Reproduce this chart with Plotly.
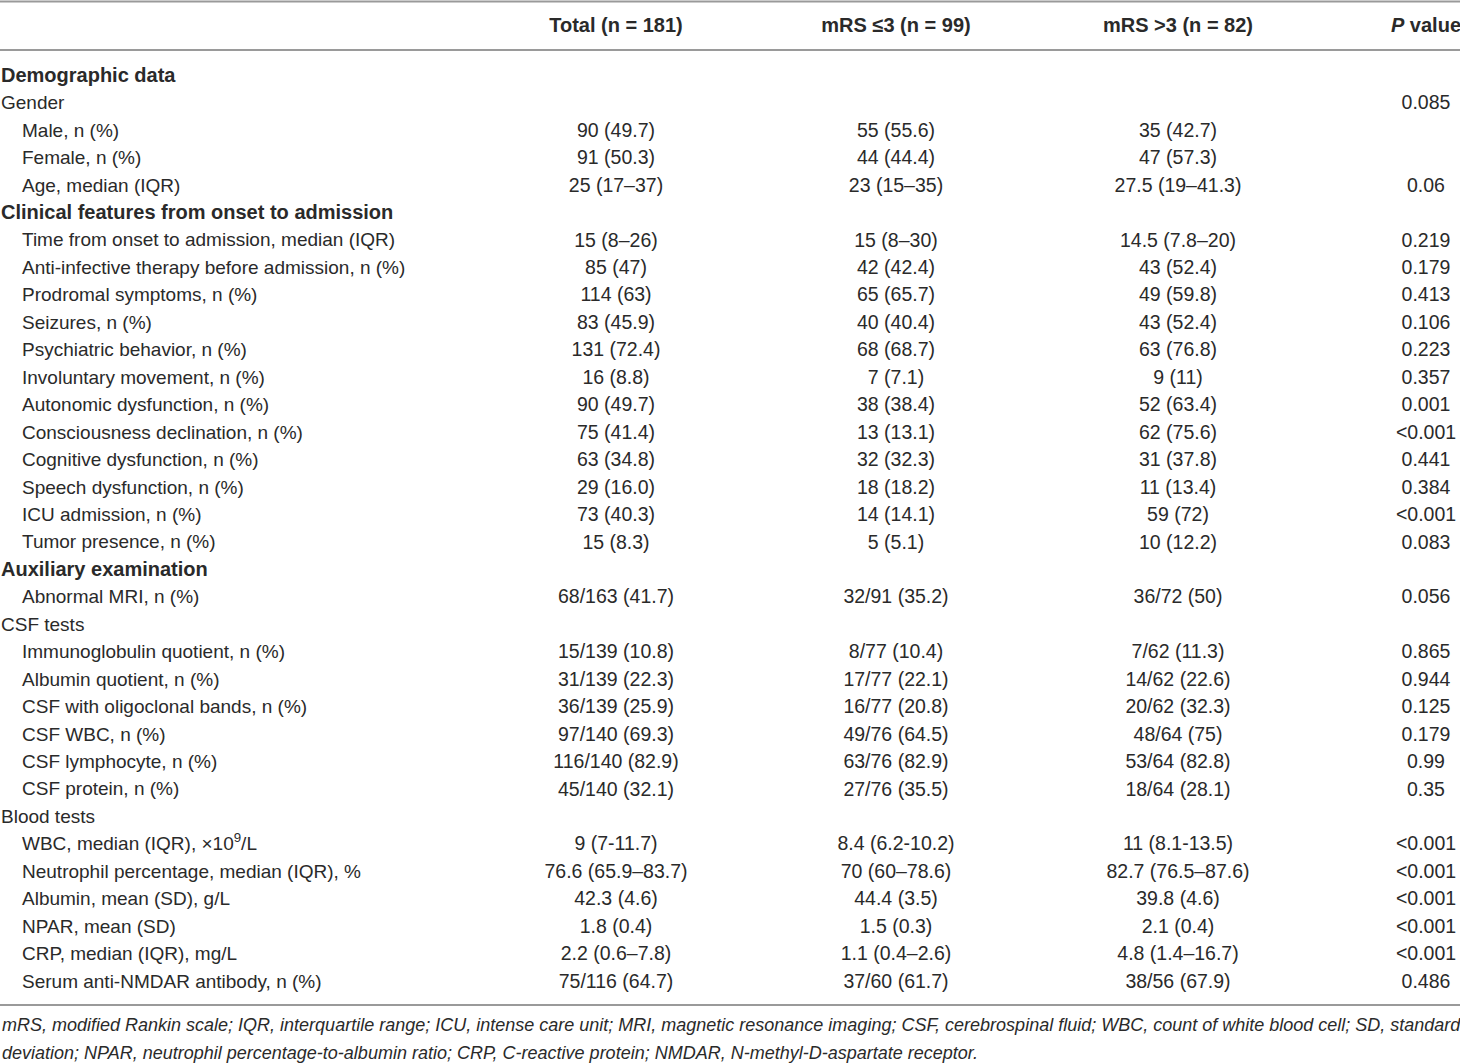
import plotly.graph_objects as go

# table content
labels = [
    "<b>Demographic data</b>", "Gender", "Male, n (%)", "Female, n (%)", "Age, median (IQR)",
    "<b>Clinical features from onset to admission</b>",
    "Time from onset to admission, median (IQR)",
    "Anti-infective therapy before admission, n (%)",
    "Prodromal symptoms, n (%)", "Seizures, n (%)", "Psychiatric behavior, n (%)",
    "Involuntary movement, n (%)", "Autonomic dysfunction, n (%)",
    "Consciousness declination, n (%)", "Cognitive dysfunction, n (%)",
    "Speech dysfunction, n (%)", "ICU admission, n (%)", "Tumor presence, n (%)",
    "<b>Auxiliary examination</b>", "Abnormal MRI, n (%)", "CSF tests",
    "Immunoglobulin quotient, n (%)", "Albumin quotient, n (%)",
    "CSF with oligoclonal bands, n (%)", "CSF WBC, n (%)", "CSF lymphocyte, n (%)",
    "CSF protein, n (%)", "Blood tests",
    "WBC, median (IQR), ×10<sup>9</sup>/L",
    "Neutrophil percentage, median (IQR), %",
    "Albumin, mean (SD), g/L", "NPAR, mean (SD)", "CRP, median (IQR), mg/L",
    "Serum anti-NMDAR antibody, n (%)",
]
indent = [0, 0, 1, 1, 1, 0, 1, 1, 1, 1, 1, 1, 1, 1, 1, 1, 1, 1, 0, 1, 0,
          1, 1, 1, 1, 1, 1, 0, 1, 1, 1, 1, 1, 1]

total = [
    "", "", "90 (49.7)", "91 (50.3)", "25 (17–37)", "", "15 (8–26)", "85 (47)",
    "114 (63)", "83 (45.9)", "131 (72.4)", "16 (8.8)", "90 (49.7)", "75 (41.4)",
    "63 (34.8)", "29 (16.0)", "73 (40.3)", "15 (8.3)", "", "68/163 (41.7)", "",
    "15/139 (10.8)", "31/139 (22.3)", "36/139 (25.9)", "97/140 (69.3)",
    "116/140 (82.9)", "45/140 (32.1)", "", "9 (7-11.7)", "76.6 (65.9–83.7)",
    "42.3 (4.6)", "1.8 (0.4)", "2.2 (0.6–7.8)", "75/116 (64.7)",
]
mrs_low = [
    "", "", "55 (55.6)", "44 (44.4)", "23 (15–35)", "", "15 (8–30)", "42 (42.4)",
    "65 (65.7)", "40 (40.4)", "68 (68.7)", "7 (7.1)", "38 (38.4)", "13 (13.1)",
    "32 (32.3)", "18 (18.2)", "14 (14.1)", "5 (5.1)", "", "32/91 (35.2)", "",
    "8/77 (10.4)", "17/77 (22.1)", "16/77 (20.8)", "49/76 (64.5)", "63/76 (82.9)",
    "27/76 (35.5)", "", "8.4 (6.2-10.2)", "70 (60–78.6)", "44.4 (3.5)",
    "1.5 (0.3)", "1.1 (0.4–2.6)", "37/60 (61.7)",
]
mrs_high = [
    "", "", "35 (42.7)", "47 (57.3)", "27.5 (19–41.3)", "", "14.5 (7.8–20)",
    "43 (52.4)", "49 (59.8)", "43 (52.4)", "63 (76.8)", "9 (11)", "52 (63.4)",
    "62 (75.6)", "31 (37.8)", "11 (13.4)", "59 (72)", "10 (12.2)", "", "36/72 (50)",
    "", "7/62 (11.3)", "14/62 (22.6)", "20/62 (32.3)", "48/64 (75)", "53/64 (82.8)",
    "18/64 (28.1)", "", "11 (8.1-13.5)", "82.7 (76.5–87.6)", "39.8 (4.6)",
    "2.1 (0.4)", "4.8 (1.4–16.7)", "38/56 (67.9)",
]
p_values = [
    "", "0.085", "", "", "0.06", "", "0.219", "0.179", "0.413", "0.106", "0.223",
    "0.357", "0.001", "<0.001", "0.441", "0.384", "<0.001", "0.083", "", "0.056",
    "", "0.865", "0.944", "0.125", "0.179", "0.99", "0.35", "", "<0.001", "<0.001",
    "<0.001", "<0.001", "<0.001", "0.486",
]
headers = ["<b>Total (n = 181)</b>", "<b>mRS ≤3 (n = 99)</b>",
           "<b>mRS >3 (n = 82)</b>", "<b><i>P</i> value</b>"]
footnote = [
    "mRS, modified Rankin scale; IQR, interquartile range; ICU, intense care unit; "
    "MRI, magnetic resonance imaging; CSF, cerebrospinal fluid; WBC, count of white "
    "blood cell; SD, standard",
    "deviation; NPAR, neutrophil percentage-to-albumin ratio; CRP, C-reactive protein; "
    "NMDAR, N-methyl-D-aspartate receptor.",
]

W, H = 1460, 1063
FONT = "Liberation Sans, Arial, Helvetica, sans-serif"
TXT = "#2a2a2a"
RULE = "#9a9a9a"
ROW0, ROWH = 77, 27.45           # pixel centre of first body row, row pitch
col_x = [616, 896, 1178, 1426]   # column centres in pixels


def row_of(px):
    # convert a pixel height into row units on the y axis
    return (px - ROW0) / ROWH


rows = list(range(len(labels)))
fig = go.Figure()

# first column, indented sub-items; bold section rows a bit larger
fig.add_trace(go.Scatter(
    x=[1 + 21 * k for k in indent], y=rows, text=labels, mode="text",
    textposition="middle right", hoverinfo="skip",
    textfont=dict(family=FONT, size=[20 if t.startswith("<b>") else 19 for t in labels],
                  color=TXT),
))

# value columns
for cx, vals in zip(col_x, [total, mrs_low, mrs_high, p_values]):
    fig.add_trace(go.Scatter(
        x=[cx] * len(vals), y=rows, text=vals, mode="text",
        textposition="middle center", hoverinfo="skip",
        textfont=dict(family=FONT, size=19.5, color=TXT),
    ))

# header row
fig.add_trace(go.Scatter(
    x=col_x, y=[row_of(27)] * len(headers), text=headers, mode="text",
    textposition="middle center", hoverinfo="skip",
    textfont=dict(family=FONT, size=20, color=TXT),
))

# horizontal rules: top, under header, bottom
for py in [1.5, 50, 1005]:
    fig.add_shape(type="line", xref="x", yref="y", x0=0, x1=W,
                  y0=row_of(py), y1=row_of(py), line=dict(color=RULE, width=2))

# footnote
for i, line in enumerate(footnote):
    fig.add_annotation(
        x=0, y=row_of(1025 + 28 * i), xref="x", yref="y", text="<i>" + line + "</i>",
        showarrow=False, xanchor="left", yanchor="middle",
        font=dict(family=FONT, size=18, color=TXT),
    )

fig.update_layout(
    width=W, height=H, margin=dict(l=0, r=0, t=0, b=0),
    paper_bgcolor="white", plot_bgcolor="white", showlegend=False,
    xaxis=dict(range=[0, W], visible=False, fixedrange=True),
    yaxis=dict(range=[row_of(H), row_of(0)], visible=False, fixedrange=True),
)

fig.write_html("out.html", config={"displayModeBar": False},
               post_script="document.body.style.margin='0';"
                           "document.body.style.overflow='hidden';")
